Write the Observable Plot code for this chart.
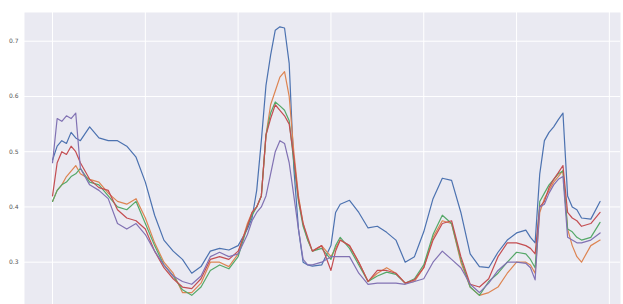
<!DOCTYPE html>
<html>
<head>
<meta charset="utf-8">
<script src="https://cdn.jsdelivr.net/npm/d3@7"></script>
<script src="https://cdn.jsdelivr.net/npm/@observablehq/plot@0.6"></script>
<style>
  html, body { margin: 0; padding: 0; background: #ffffff; }
  #chart svg { display: block; }
</style>
</head>
<body>
<div id="chart"></div>
<script>
// shared x positions (sample index)
const xs = [
  0, 5, 10, 15, 20, 25, 30,
  40, 50, 60, 70, 80, 90, 100, 110, 120, 130, 140, 150, 160, 170, 180, 190, 200, 210,
  215, 220, 225, 230, 235, 240, 245, 250, 255, 260, 265, 270, 275,
  280, 290, 300, 305,
  310, 320, 330, 340, 350, 360, 370, 380, 390, 400, 410, 420, 430, 440, 450, 460, 470, 480, 490, 500, 510,
  515, 520, 525, 530, 535, 540, 545, 550, 555, 560, 565, 570,
  580, 590
];

const seriesNames = ["series 1", "series 2", "series 3", "series 4", "series 5"];

const series1 = [
  0.485, 0.51, 0.52, 0.515, 0.535, 0.525, 0.52,
  0.545, 0.525, 0.52, 0.52, 0.51, 0.49, 0.445, 0.385, 0.34, 0.32, 0.305, 0.28, 0.292, 0.32, 0.325, 0.322, 0.33, 0.36,
  0.38, 0.43, 0.52, 0.62, 0.675, 0.72, 0.726, 0.724, 0.66, 0.47, 0.36, 0.30, 0.295,
  0.293, 0.295, 0.33, 0.39,
  0.405, 0.412, 0.39, 0.362, 0.365, 0.354, 0.34, 0.30, 0.31, 0.355, 0.415, 0.452, 0.448, 0.39, 0.315, 0.292, 0.29, 0.318, 0.34, 0.353, 0.358,
  0.345, 0.335, 0.46, 0.52, 0.535, 0.545, 0.558, 0.57, 0.42, 0.40, 0.395, 0.38,
  0.378, 0.41
];

const series2 = [
  0.41, 0.43, 0.44, 0.455, 0.465, 0.475, 0.46,
  0.45, 0.445, 0.425, 0.41, 0.405, 0.415, 0.38, 0.335, 0.30, 0.28, 0.245, 0.245, 0.262, 0.30, 0.30, 0.292, 0.315, 0.37,
  0.39, 0.40, 0.42, 0.53, 0.585, 0.61, 0.635, 0.645, 0.60, 0.50, 0.42, 0.37, 0.34,
  0.32, 0.33, 0.31, 0.325,
  0.34, 0.33, 0.30, 0.265, 0.28, 0.29, 0.28, 0.262, 0.265, 0.29, 0.345, 0.375, 0.37, 0.30, 0.255, 0.24, 0.245, 0.255, 0.28, 0.30, 0.30,
  0.295, 0.28, 0.39, 0.415, 0.43, 0.445, 0.455, 0.466, 0.36, 0.33, 0.31, 0.30,
  0.33, 0.34
];

const series3 = [
  0.41, 0.43, 0.44, 0.445, 0.455, 0.46, 0.47,
  0.445, 0.44, 0.42, 0.40, 0.395, 0.41, 0.37, 0.33, 0.295, 0.275, 0.25, 0.24, 0.255, 0.285, 0.295, 0.288, 0.31, 0.365,
  0.385, 0.40, 0.42, 0.53, 0.57, 0.59, 0.583, 0.575, 0.556, 0.48, 0.41, 0.365, 0.34,
  0.32, 0.325, 0.305, 0.33,
  0.345, 0.325, 0.295, 0.265, 0.275, 0.282, 0.278, 0.262, 0.27, 0.295, 0.35, 0.385, 0.37, 0.305, 0.255, 0.24, 0.265, 0.28, 0.30, 0.318, 0.315,
  0.305, 0.29, 0.41, 0.425, 0.44, 0.45, 0.46, 0.465, 0.36, 0.355, 0.345, 0.34,
  0.345, 0.372
];

const series4 = [
  0.42, 0.48, 0.50, 0.495, 0.51, 0.50, 0.48,
  0.45, 0.435, 0.43, 0.395, 0.38, 0.375, 0.36, 0.32, 0.29, 0.27, 0.255, 0.252, 0.27, 0.305, 0.31, 0.305, 0.32, 0.365,
  0.39, 0.40, 0.42, 0.53, 0.56, 0.585, 0.575, 0.565, 0.55, 0.49, 0.415, 0.37, 0.345,
  0.32, 0.33, 0.285, 0.32,
  0.34, 0.33, 0.30, 0.265, 0.285, 0.285, 0.28, 0.262, 0.268, 0.29, 0.34, 0.37, 0.375, 0.31, 0.26, 0.255, 0.27, 0.31, 0.335, 0.335, 0.33,
  0.325, 0.315, 0.40, 0.41, 0.435, 0.45, 0.462, 0.475, 0.39, 0.38, 0.375, 0.365,
  0.37, 0.39
];

const series5 = [
  0.48, 0.56, 0.555, 0.565, 0.56, 0.57, 0.47,
  0.44, 0.43, 0.415, 0.37, 0.36, 0.37, 0.35, 0.32, 0.295, 0.275, 0.265, 0.26, 0.275, 0.31, 0.318, 0.31, 0.315, 0.35,
  0.375, 0.39, 0.40, 0.42, 0.46, 0.50, 0.52, 0.515, 0.48, 0.42, 0.36, 0.305, 0.295,
  0.295, 0.30, 0.31, 0.31,
  0.31, 0.31, 0.28, 0.26, 0.262, 0.262, 0.262, 0.26, 0.265, 0.27, 0.30, 0.32, 0.305, 0.29, 0.26, 0.245, 0.262, 0.285, 0.30, 0.30, 0.298,
  0.29, 0.268, 0.40, 0.405, 0.425, 0.44, 0.45, 0.455, 0.345, 0.34, 0.335, 0.335,
  0.34, 0.353
];

const yTicks = [0.3, 0.4, 0.5, 0.6, 0.7];
const xGridValues = [0, 100, 200, 300, 400, 500, 600];
const seriesColors = ["#4C72B0", "#DD8452", "#55A868", "#C44E52", "#8172B3"];

const allSeries = [series1, series2, series3, series4, series5];
const rows = [];
allSeries.forEach((vals, k) => {
  xs.forEach((x, i) => rows.push({x, y: vals[i], s: seriesNames[k]}));
});

const chart = Plot.plot({
  width: 623,
  height: 304,
  marginLeft: 24,
  marginRight: 3,
  marginTop: 12,
  marginBottom: 0,
  style: {background: "#ffffff", fontFamily: "DejaVu Sans, sans-serif", fontSize: "6px", color: "#555555"},
  x: {domain: [-30.2, 612], axis: null},
  y: {domain: [0.2234, 0.752], ticks: yTicks, tickFormat: ".1f", tickSize: 0, tickPadding: 6, label: null},
  color: {domain: seriesNames, range: seriesColors},
  marks: [
    Plot.frame({fill: "#EAEAF2", stroke: null}),
    Plot.gridX(xGridValues, {stroke: "#ffffff", strokeOpacity: 1, strokeWidth: 1}),
    Plot.gridY(yTicks, {stroke: "#ffffff", strokeOpacity: 1, strokeWidth: 1}),
    Plot.line(rows, {x: "x", y: "y", z: "s", stroke: "s", strokeWidth: 1.2})
  ]
});
document.getElementById("chart").appendChild(chart);
</script>
</body>
</html>
